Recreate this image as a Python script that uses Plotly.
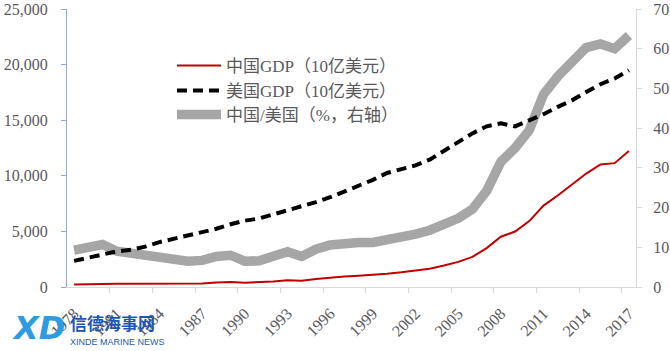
import plotly.graph_objects as go

years = list(range(1978, 2018))
china_gdp = [218, 263, 306, 289, 284, 301, 310, 307, 298, 323, 404, 451, 390, 409, 488, 613, 559, 728,
             856, 953, 1019, 1083, 1198, 1325, 1454, 1641, 1932, 2257, 2713, 3494, 4522, 4990, 5930,
             7322, 8230, 9240, 10200, 11016, 11138, 12237]
us_gdp = [2352, 2627, 2857, 3207, 3343, 3634, 4037, 4339, 4579, 4855, 5236, 5641, 5963, 6158, 6520,
          6858, 7287, 7639, 8073, 8577, 9062, 9631, 10252, 10582, 10936, 11458, 12214, 13037, 13815,
          14452, 14713, 14449, 14992, 15543, 16197, 16785, 17527, 18238, 18745, 19485]
ratio = [9.3, 10.0, 10.7, 9.0, 8.5, 8.3, 7.7, 7.1, 6.5, 6.7, 7.7, 8.0, 6.5, 6.6, 7.5, 8.9, 7.7, 9.5,
         10.6, 11.1, 11.2, 11.2, 11.7, 12.5, 13.3, 14.3, 15.8, 17.3, 19.6, 24.2, 31.5, 35.0, 39.5,
         48.5, 53.0, 57.0, 60.3, 61.2, 60.0, 63.3]
names = ["中国GDP（10亿美元）", "美国GDP（10亿美元）", "中国/美国（%，右轴）"]
left_ticks = [0, 5000, 10000, 15000, 20000, 25000]
right_ticks = [0, 10, 20, 30, 40, 50, 60, 70]
xlabels = list(range(1978, 2018, 3))

FONT = "Liberation Serif, 'Noto Sans CJK SC', serif"
TXT = "#595959"

fig = go.Figure()
fig.add_trace(go.Scatter(x=years, y=ratio, mode="lines", name=names[2], showlegend=True,
                         line=dict(color="#A6A6A6", width=9.5), yaxis="y", legend="legend3"))
fig.add_trace(go.Scatter(x=years, y=china_gdp, mode="lines", name=names[0], showlegend=True,
                         line=dict(color="#C00000", width=2), yaxis="y2", legend="legend"))
fig.add_trace(go.Scatter(x=years, y=us_gdp, mode="lines", name=names[1], showlegend=True,
                         line=dict(color="black", width=4, dash="10px,6px"), yaxis="y2", legend="legend2"))

def py(px):
    return 1 - (px - 9) / 278

lx = (172 - 67) / 569
legfont = dict(family=FONT, size=17, color=TXT)
common = dict(x=lx, xanchor="left", yanchor="middle", bgcolor="rgba(0,0,0,0)", font=legfont,
              itemwidth=44, visible=True)

fig.update_layout(
    width=670, height=351,
    margin=dict(l=67, r=34, t=9, b=64),
    showlegend=True,
    paper_bgcolor="white", plot_bgcolor="white",
    font=dict(family=FONT, size=16, color=TXT),
    legend=dict(y=py(66), **common),
    legend2=dict(y=py(91), **common),
    legend3=dict(y=py(115), **common),
    xaxis=dict(range=[1977.5, 2017.5], tickvals=xlabels, ticktext=[str(v) for v in xlabels],
               tickangle=-45, ticks="", showgrid=False, zeroline=False, automargin=False,
               showline=True, linecolor="#D9D9D9", linewidth=1, ticklabelstandoff=10,
               tickfont=dict(family=FONT, size=16, color=TXT),
               minor=dict(tickvals=[v - 0.5 + 3 for v in xlabels[:-1]], ticks="outside",
                          ticklen=5, tickcolor="#D9D9D9", showgrid=False)),
    yaxis=dict(range=[0, 70], tickvals=right_ticks, side="right", showgrid=False, zeroline=False,
               showline=True, linecolor="#D9D9D9", linewidth=1, ticks="outside", ticklen=5,
               automargin=False, ticklabelstandoff=8,
               tickcolor="#D9D9D9", tickfont=dict(family=FONT, size=16, color=TXT)),
    yaxis2=dict(range=[0, 25000], tickvals=left_ticks, ticktext=[f"{v:,}" for v in left_ticks],
                side="left", overlaying="y", showgrid=False, zeroline=False,
                showline=True, linecolor="#8FAADC", linewidth=1, ticks="outside", ticklen=5,
                automargin=False, ticklabelstandoff=10,
                tickcolor="#8FAADC", tickfont=dict(family=FONT, size=16, color=TXT)),
)

# watermark logo text
fig.add_annotation(xref="paper", yref="paper", x=(10 - 67) / 569, y=py(328), xanchor="left",
                   yanchor="middle", text="<b><i>XD</i></b>", showarrow=False,
                   font=dict(family="DejaVu Sans", size=32, color="#2E9BE0"))
fig.add_annotation(xref="paper", yref="paper", x=(68 - 67) / 569, y=py(322), xanchor="left",
                   yanchor="middle", text="<b>信德海事网</b>", showarrow=False,
                   font=dict(family="Noto Sans CJK SC", size=17, color="#1F57B0"))
fig.add_annotation(xref="paper", yref="paper", x=(68 - 67) / 569, y=py(342), xanchor="left",
                   yanchor="middle", text="XINDE MARINE NEWS", showarrow=False,
                   font=dict(family="Liberation Sans", size=9, color="#1F57B0"))

fig.write_html("out.html")
